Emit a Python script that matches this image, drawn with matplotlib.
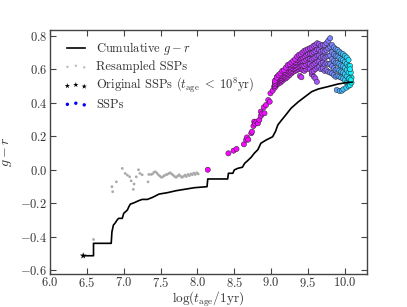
import numpy as np
import matplotlib
matplotlib.use("Agg")
import matplotlib.pyplot as plt
from matplotlib.colors import Normalize
from matplotlib.collections import PathCollection
from matplotlib.legend_handler import HandlerPathCollection

plt.rcParams['font.family'] = 'serif'
plt.rcParams['font.serif'] = ['cmr10']
plt.rcParams['mathtext.fontset'] = 'cm'
plt.rcParams['axes.formatter.use_mathtext'] = True
plt.rcParams['font.size'] = 9

TXT = '#333333'

# ---------------- data ----------------
cum_x = [6.45, 6.59, 6.59, 6.83, 6.84, 6.86, 6.88, 6.91, 6.93, 6.98, 7.00, 7.05, 7.07,
         7.09, 7.14, 7.20, 7.25, 7.32, 7.39, 7.48, 7.59, 7.71, 7.82, 7.96, 8.13, 8.14,
         8.41, 8.42, 8.48, 8.50, 8.55, 8.61, 8.64, 8.68, 8.73, 8.77, 8.82, 8.86, 8.93,
         9.02, 9.06, 9.09, 9.13, 9.18, 9.27, 9.37, 9.46, 9.55, 9.64, 9.77, 9.91, 10.05, 10.10]
cum_y = [-0.513, -0.513, -0.439, -0.439, -0.37, -0.33, -0.32, -0.30, -0.29, -0.29, -0.26,
         -0.24, -0.22, -0.205, -0.197, -0.185, -0.177, -0.177, -0.165, -0.145, -0.137,
         -0.125, -0.117, -0.107, -0.101, -0.055, -0.055, -0.021, -0.021, -0.001, 0.009,
         0.015, 0.038, 0.054, 0.075, 0.098, 0.12, 0.158, 0.177, 0.197, 0.23, 0.267, 0.29,
         0.317, 0.367, 0.406, 0.436, 0.466, 0.482, 0.496, 0.512, 0.522, 0.522]

resamp_x = [6.59, 6.84, 6.85, 6.90, 6.98, 7.02, 7.05, 7.08, 7.10, 7.14, 7.13, 7.17, 7.20,
            7.22, 7.25, 7.33, 7.34, 7.37,
            7.39, 7.41, 7.43, 7.45, 7.47, 7.49, 7.51, 7.53, 7.55, 7.57, 7.59, 7.61, 7.63,
            7.65, 7.67, 7.69, 7.71, 7.73, 7.75, 7.77, 7.79, 7.81, 7.83, 7.85, 7.87, 7.89,
            7.91, 7.93, 7.95, 7.97, 7.99, 8.01]
resamp_y = [-0.416, -0.101, -0.131, -0.072, 0.008, -0.022, -0.032, -0.042, -0.066, -0.085,
            -0.117, -0.042, 0.0, -0.022, -0.03, -0.072, -0.028, -0.028,
            -0.025, -0.015, -0.012, -0.02, -0.03, -0.038, -0.045, -0.042, -0.035, -0.03,
            -0.028, -0.022, -0.018, -0.025, -0.032, -0.04, -0.045, -0.038, -0.030, -0.038,
            -0.045, -0.04, -0.032, -0.04, -0.028, -0.035, -0.025, -0.03, -0.02, -0.028,
            -0.018, -0.025]

orig_x = [6.45]
orig_y = [-0.513]

# sparse young SSPs
ssp_sparse_x = [8.14, 8.42, 8.49, 8.53, 8.63, 8.66, 8.67, 8.69, 8.73, 8.74, 8.76, 8.77,
                8.78, 8.80, 8.82, 8.84, 8.86, 8.86, 8.88, 8.91, 8.90, 8.93, 8.96, 8.98,
                8.99, 9.02, 9.04, 9.06, 9.08, 9.39, 9.41, 9.55, 9.58, 9.60, 9.62]
ssp_sparse_y = [0.000, 0.098, 0.114, 0.124, 0.152, 0.178, 0.193, 0.180, 0.218, 0.227,
                0.261, 0.287, 0.275, 0.287, 0.277, 0.297, 0.321, 0.347, 0.335, 0.337,
                0.373, 0.386, 0.416, 0.406, 0.456, 0.472, 0.496, 0.535, 0.555, 0.560,
                0.552, 0.570, 0.555, 0.545, 0.525]

# dense band of old SSPs (columns read at several heights)
band_x = [9.050, 9.075, 9.100, 9.125, 9.150, 9.175, 9.200, 9.225, 9.250, 9.275, 9.300,
          9.325, 9.350, 9.375, 9.400, 9.425, 9.450, 9.475, 9.500, 9.525, 9.550, 9.575,
          9.600, 9.625, 9.650, 9.675, 9.700, 9.725, 9.750, 9.775, 9.800, 9.825, 9.850,
          9.875, 9.900, 9.925, 9.950, 9.975, 10.000, 10.025, 10.050]
band_lower = [0.490, 0.505, 0.515, 0.520, 0.530, 0.540, 0.545, 0.555, 0.565, 0.575, 0.585,
              0.590, 0.595, 0.600, 0.605, 0.595, 0.590, 0.600, 0.610, 0.600, 0.585, 0.590,
              0.600, 0.610, 0.615, 0.600, 0.605, 0.590, 0.595, 0.585, 0.580, 0.575, 0.565,
              0.555, 0.560, 0.555, 0.550, 0.545, 0.535, 0.520, 0.505]
band_mid1 = [0.500, 0.515, 0.528, 0.535, 0.545, 0.554, 0.562, 0.572, 0.581, 0.591, 0.601,
             0.608, 0.615, 0.621, 0.626, 0.621, 0.620, 0.629, 0.638, 0.631, 0.621, 0.628,
             0.636, 0.646, 0.649, 0.635, 0.640, 0.629, 0.635, 0.631, 0.631, 0.618, 0.606,
             0.596, 0.599, 0.592, 0.586, 0.581, 0.571, 0.558, 0.542]
band_mid2 = [0.510, 0.528, 0.540, 0.548, 0.560, 0.568, 0.578, 0.590, 0.598, 0.608, 0.618,
             0.625, 0.635, 0.642, 0.648, 0.648, 0.650, 0.658, 0.665, 0.662, 0.658, 0.665,
             0.672, 0.682, 0.682, 0.670, 0.675, 0.668, 0.675, 0.678, 0.682, 0.660, 0.648,
             0.638, 0.638, 0.630, 0.622, 0.618, 0.608, 0.595, 0.580]
band_mid3 = [0.520, 0.540, 0.552, 0.562, 0.575, 0.582, 0.594, 0.608, 0.614, 0.624, 0.634,
             0.642, 0.655, 0.664, 0.669, 0.674, 0.680, 0.686, 0.692, 0.694, 0.694, 0.702,
             0.709, 0.719, 0.716, 0.705, 0.710, 0.706, 0.715, 0.724, 0.734, 0.702, 0.689,
             0.679, 0.676, 0.668, 0.659, 0.654, 0.644, 0.632, 0.618]
band_upper = [0.530, 0.550, 0.565, 0.575, 0.590, 0.595, 0.610, 0.625, 0.630, 0.640, 0.650,
              0.660, 0.675, 0.685, 0.690, 0.700, 0.710, 0.715, 0.720, 0.725, 0.730, 0.740,
              0.745, 0.755, 0.750, 0.740, 0.745, 0.745, 0.755, 0.770, 0.785, 0.745, 0.730,
              0.720, 0.715, 0.705, 0.695, 0.690, 0.680, 0.670, 0.655]

# oldest SSPs (cyan tail)
ssp_old_x = [9.89, 9.93, 9.96, 9.98, 10.02, 10.05, 10.07, 10.09, 10.09, 10.08, 10.07,
             10.06, 10.08, 10.07]
ssp_old_y = [0.476, 0.470, 0.472, 0.480, 0.490, 0.500, 0.505, 0.520, 0.550, 0.580, 0.620,
             0.545, 0.535, 0.600]

# ---------------- plot ----------------
fig = plt.figure(figsize=(4.07, 3.07), dpi=100)
ax = fig.add_axes([0.1229, 0.1075, 0.7788, 0.7948])

ssp_x = np.concatenate([ssp_sparse_x, band_x, band_x, band_x, band_x, band_x, ssp_old_x])
ssp_y = np.concatenate([ssp_sparse_y, band_lower, band_mid1, band_mid2, band_mid3,
                        band_upper, ssp_old_y])
ages = 10.0 ** ssp_x
norm = Normalize(vmin=0.0, vmax=10.0 ** 10.1)

ax.plot(cum_x, cum_y, color='k', lw=1.2, zorder=3)
ax.scatter(resamp_x, resamp_y, s=4, c='#aaaaaa', edgecolors='none', zorder=2)
ax.scatter(orig_x, orig_y, s=26, c='k', marker='*', edgecolors='none', zorder=4)
ax.scatter(ssp_x, ssp_y, s=14, c=ages, cmap='cool_r', norm=norm,
           edgecolors='#222222', linewidths=0.35, zorder=2)

# legend proxies
h1, = ax.plot([], [], color='k', lw=1.2, label=r'Cumulative $g-r$')
h2 = ax.scatter([], [], s=3, c='#bbbbbb', edgecolors='none', label='Resampled SSPs')
h3 = ax.scatter([], [], s=16, c='k', marker='*', edgecolors='none',
                label=r'Original SSPs ($t_{\rm age}\;<\;10^8$yr)')
h4 = ax.scatter([], [], s=6, c='b', edgecolors='none', label='SSPs')
leg = ax.legend(handles=[h1, h2, h3, h4], loc='upper left', frameon=False,
                bbox_to_anchor=(0.037, 0.978), borderaxespad=0.0,
                scatterpoints=3, handlelength=1.45, handletextpad=0.92,
                labelspacing=0.25, fontsize=9,
                handler_map={PathCollection: HandlerPathCollection(marker_pad=0.05)})
for t in leg.get_texts():
    t.set_color(TXT)

ax.set_xlim(6.0, 10.3)
ax.set_ylim(-0.622, 0.834)
ax.set_xticks([6.0, 6.5, 7.0, 7.5, 8.0, 8.5, 9.0, 9.5, 10.0])
ax.set_yticks([-0.6, -0.4, -0.2, 0.0, 0.2, 0.4, 0.6, 0.8])
ax.yaxis.set_major_formatter(matplotlib.ticker.FormatStrFormatter('$%.1f$'))
ax.xaxis.set_major_formatter(matplotlib.ticker.FormatStrFormatter('$%.1f$'))
ax.tick_params(direction='in', top=True, right=True, length=4, width=0.8,
               colors='#444444', labelcolor=TXT, labelsize=9, pad=2)
ax.tick_params(axis='x', pad=1.5)
for sp in ax.spines.values():
    sp.set_color('#444444')
    sp.set_linewidth(1.0)

ax.set_xlabel(r'$\log(t_{\rm age}/1{\rm yr})$', color=TXT, fontsize=9.5, labelpad=-0.5)
ax.set_ylabel(r'$g-r$', color=TXT, fontsize=10, labelpad=4)

fig.savefig('out.png', dpi=100)
